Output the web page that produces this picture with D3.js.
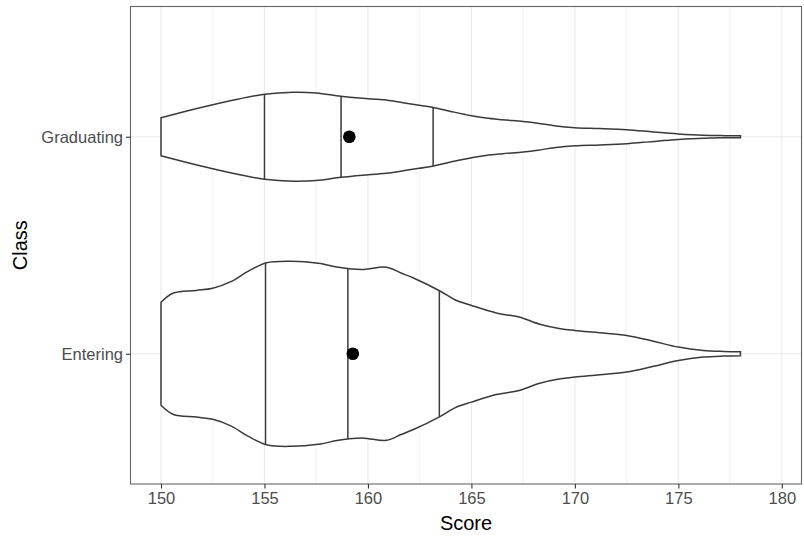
<!DOCTYPE html>
<html>
<head>
<meta charset="utf-8">
<script src="https://cdn.jsdelivr.net/npm/d3@7"></script>
<style>
  body { margin: 0; background: #fff; }
  svg { display: block; font-family: "Liberation Sans", Arial, sans-serif; }
</style>
</head>
<body>
<div id="chart"></div>
<script>
// violin plot of scores by class (ggplot theme_bw look)
const classes = ['Graduating', 'Entering'];
const xTicks = [150, 155, 160, 165, 170, 175, 180];
const xMinor = [152.5, 157.5, 162.5, 167.5, 172.5, 177.5];

// density profiles (score -> density)
const gradScores = [150, 151.2, 152.5, 153.7, 155, 156.4, 157.5, 158.7, 160, 161, 162, 163.1, 164, 165, 165.7, 166.5, 167.5, 168.2, 169, 170, 171.2, 172.5, 173.8, 175, 176.2, 177.2, 178];
const gradDensity = [0.019, 0.0255, 0.032, 0.0375, 0.0425, 0.0445, 0.0438, 0.0405, 0.038, 0.0363, 0.033, 0.0295, 0.0253, 0.021, 0.0187, 0.017, 0.0152, 0.0135, 0.011, 0.009, 0.0082, 0.007, 0.0047, 0.0028, 0.0015, 0.0011, 0.001];
const entScores = [150, 150.6, 151.7, 152.5, 153.4, 154.2, 155.1, 156.3, 157.6, 158.5, 159.1, 159.8, 160.9, 161.6, 162.2, 163.5, 164.2, 165, 166.2, 167.3, 168.3, 169.3, 170, 171.2, 172.5, 173.8, 175, 176.2, 177.2, 178];
const entDensity = [0.0515, 0.0607, 0.0633, 0.0655, 0.0723, 0.0823, 0.091, 0.0925, 0.0905, 0.0867, 0.085, 0.0843, 0.0865, 0.0807, 0.0757, 0.0625, 0.054, 0.0483, 0.0408, 0.0367, 0.0295, 0.025, 0.0233, 0.021, 0.0183, 0.0125, 0.0067, 0.0033, 0.0023, 0.002];

const gradQuantiles = [155.0, 158.7, 163.15];
const entQuantiles = [155.05, 159.03, 163.45];
const classMeans = [159.1, 159.27];

const series = [
  { name: 'Graduating', scores: gradScores, density: gradDensity, q: gradQuantiles, mean: classMeans[0] },
  { name: 'Entering', scores: entScores, density: entDensity, q: entQuantiles, mean: classMeans[1] }
];

const width = 804, height = 537;
const margin = { top: 6.5, right: 2.5, bottom: 53, left: 130.5 };
const innerW = width - margin.left - margin.right;
const innerH = height - margin.top - margin.bottom;

const svg = d3.select('#chart').append('svg').attr('width', width).attr('height', height);
const g = svg.append('g').attr('transform', `translate(${margin.left},${margin.top})`);

const x = d3.scaleLinear().domain([148.526, 180.95]).range([0, innerW]);
const y = d3.scalePoint().domain(classes).range([0, innerH]).padding(0.6);
const step = y.step();
const w = d3.scaleLinear().domain([0, 0.0976]).range([0, 0.45 * step]);

// grid
g.selectAll('.minor').data(xMinor).join('line')
  .attr('x1', d => x(d)).attr('x2', d => x(d)).attr('y1', 0).attr('y2', innerH)
  .attr('stroke', '#ebebeb').attr('stroke-width', 0.7);
g.selectAll('.xmajor').data(xTicks).join('line')
  .attr('x1', d => x(d)).attr('x2', d => x(d)).attr('y1', 0).attr('y2', innerH)
  .attr('stroke', '#ebebeb').attr('stroke-width', 1.2);
g.selectAll('.ymajor').data(classes).join('line')
  .attr('x1', 0).attr('x2', innerW).attr('y1', d => y(d)).attr('y2', d => y(d))
  .attr('stroke', '#ebebeb').attr('stroke-width', 1.2);

// violins
series.forEach(s => {
  const cy = y(s.name);
  const pts = s.scores.map((v, i) => ({ v, d: s.density[i] }));
  const area = d3.area()
    .x(p => x(p.v))
    .y0(p => cy - w(p.d))
    .y1(p => cy + w(p.d))
    .curve(d3.curveCatmullRom.alpha(0.5));
  g.append('path').attr('d', area(pts))
    .attr('fill', '#fff').attr('stroke', '#3a3a3a').attr('stroke-width', 1.5);

  const dAt = d3.scaleLinear().domain(s.scores).range(s.density);
  g.selectAll(null).data(s.q).join('line')
    .attr('x1', d => x(d)).attr('x2', d => x(d))
    .attr('y1', d => cy - w(dAt(d))).attr('y2', d => cy + w(dAt(d)))
    .attr('stroke', '#3a3a3a').attr('stroke-width', 1.5);

  g.append('circle').attr('cx', x(s.mean)).attr('cy', cy).attr('r', 6.3).attr('fill', '#000');
});

// panel border
g.append('rect').attr('width', innerW).attr('height', innerH)
  .attr('fill', 'none').attr('stroke', '#666').attr('stroke-width', 1.1);

// axes
const xAxis = g.append('g').attr('transform', `translate(0,${innerH})`)
  .call(d3.axisBottom(x).tickValues(xTicks).tickSize(4.5).tickPadding(4));
const yAxis = g.append('g')
  .call(d3.axisLeft(y).tickSize(4.5).tickPadding(3));
[xAxis, yAxis].forEach(a => {
  a.select('.domain').remove();
  a.selectAll('.tick line').attr('stroke', '#333').attr('stroke-width', 1.1);
  a.selectAll('.tick text').attr('fill', '#4d4d4d').style('font-size', '16.5px')
    .style('font-family', '"Liberation Sans", Arial, sans-serif');
});

svg.append('text').attr('x', margin.left + innerW / 2).attr('y', 530)
  .attr('text-anchor', 'middle').style('font-size', '20px').text('Score');
svg.append('text').attr('transform', `translate(27,${margin.top + innerH / 2}) rotate(-90)`)
  .attr('text-anchor', 'middle').style('font-size', '20px').text('Class');
</script>
</body>
</html>
